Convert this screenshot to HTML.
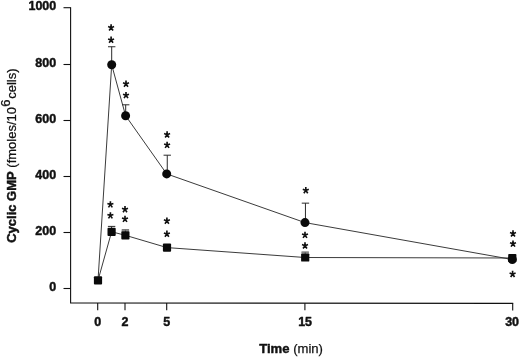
<!DOCTYPE html>
<html><head><meta charset="utf-8"><title>chart</title>
<style>
html,body{margin:0;padding:0;background:#fff;}
body{width:520px;height:357px;overflow:hidden;font-family:"Liberation Sans",sans-serif;}
svg{display:block;will-change:transform;}
text{font-family:"Liberation Sans",sans-serif;fill:#111;}
.b{font-weight:bold;}
</style></head><body>
<svg width="520" height="357" viewBox="0 0 520 357">
<rect width="520" height="357" fill="#fff"/>

<g stroke="#111" stroke-width="1.1" fill="none">
<path d="M70.6 7.2V302.9L513.2 303.35"/>
<path d="M63.5 288.5H70.6"/>
<path d="M63.5 232.5H70.6"/>
<path d="M63.5 176.5H70.6"/>
<path d="M63.5 120.5H70.6"/>
<path d="M63.5 64.5H70.6"/>
<path d="M63.5 7.7H70.6"/>
<path d="M97.7 302.93V310.13"/>
<path d="M125.0 302.96V310.16"/>
<path d="M166.7 303.00V310.20"/>
<path d="M304.9 303.14V310.34"/>
<path d="M512.7 303.35V310.55"/>
</g>
<g stroke="#303030" stroke-width="0.95" fill="none">
<path d="M98.0 280.4 L111.7 64.8 L125.6 115.7 L166.7 173.9 L305.0 222.6 L512.3 259.5"/>
<path d="M98.0 280.4 L111.6 231.8 L125.4 235.3 L167.0 247.6 L305.2 257.5 L512.3 258.0"/>
</g>
<g stroke="#2a2a2a" stroke-width="1" fill="none">
<path d="M111.70 64.85V46.75M108.00 46.75H115.40"/>
<path d="M125.70 115.70V104.80M122.00 104.80H129.40"/>
<path d="M167.25 173.90V155.20M163.55 155.20H170.95"/>
<path d="M305.45 222.60V203.15M301.75 203.15H309.15"/>
<path d="M111.60 231.85V226.40M107.90 226.40H115.30"/>
<path d="M125.40 235.35V229.90M121.70 229.90H129.10"/>
<path d="M305.20 257.50V252.10M301.50 252.10H308.90"/>
</g>
<rect x="121.7" y="230.3" width="7.4" height="1.1" fill="#777"/><rect x="301.5" y="252.5" width="7.4" height="1.0" fill="#888"/>
<g fill="#0a0a0a">
<circle cx="111.7" cy="64.8" r="4.5"/>
<circle cx="125.6" cy="115.7" r="4.5"/>
<circle cx="166.7" cy="173.9" r="4.5"/>
<circle cx="305.0" cy="222.6" r="4.5"/>
<circle cx="512.3" cy="259.5" r="4.5"/>
<rect x="93.9" y="276.3" width="8.2" height="8.2" rx="0.9"/>
<rect x="107.5" y="227.8" width="8.2" height="8.2" rx="0.9"/>
<rect x="121.3" y="231.2" width="8.2" height="8.2" rx="0.9"/>
<rect x="162.9" y="243.5" width="8.2" height="8.2" rx="0.9"/>
<rect x="301.1" y="253.4" width="8.2" height="8.2" rx="0.9"/>
<rect x="508.2" y="253.9" width="8.2" height="8.2" rx="0.9"/>
</g>
<defs><path id="a" d="M0 0.3V-3.1M0 0.3L-3 -0.8M0 0.3L3 -0.8M0 0.3L-1.95 3.1M0 0.3L1.95 3.1" stroke="#111" stroke-width="1.65" fill="none"/></defs>
<use href="#a" x="111.1" y="27.4"/>
<use href="#a" x="111.1" y="39.7"/>
<use href="#a" x="126.0" y="83.6"/>
<use href="#a" x="126.0" y="95.0"/>
<use href="#a" x="167.1" y="134.4"/>
<use href="#a" x="167.1" y="144.8"/>
<use href="#a" x="305.8" y="190.1"/>
<use href="#a" x="110.4" y="204.3"/>
<use href="#a" x="110.4" y="215.3"/>
<use href="#a" x="125.0" y="209.1"/>
<use href="#a" x="125.0" y="218.8"/>
<use href="#a" x="166.9" y="220.6"/>
<use href="#a" x="166.9" y="233.7"/>
<use href="#a" x="305.0" y="234.8"/>
<use href="#a" x="305.0" y="245.4"/>
<use href="#a" x="513.0" y="233.4"/>
<use href="#a" x="513.0" y="243.5"/>
<use href="#a" x="512.6" y="273.9"/>
<text transform="translate(56.20 291.10)  scale(1 1.050)" font-size="12.5" text-anchor="end" stroke="#111" stroke-width="0.45" stroke-linejoin="round"><tspan class="b">0</tspan></text>
<text transform="translate(56.20 235.10)  scale(1 1.050)" font-size="12.5" text-anchor="end" stroke="#111" stroke-width="0.45" stroke-linejoin="round"><tspan class="b">200</tspan></text>
<text transform="translate(56.20 179.10)  scale(1 1.050)" font-size="12.5" text-anchor="end" stroke="#111" stroke-width="0.45" stroke-linejoin="round"><tspan class="b">400</tspan></text>
<text transform="translate(56.20 123.10)  scale(1 1.050)" font-size="12.5" text-anchor="end" stroke="#111" stroke-width="0.45" stroke-linejoin="round"><tspan class="b">600</tspan></text>
<text transform="translate(56.20 67.10)  scale(1 1.050)" font-size="12.5" text-anchor="end" stroke="#111" stroke-width="0.45" stroke-linejoin="round"><tspan class="b">800</tspan></text>
<text transform="translate(56.20 10.30)  scale(1 1.050)" font-size="12.5" text-anchor="end" stroke="#111" stroke-width="0.45" stroke-linejoin="round"><tspan class="b">1000</tspan></text>
<text transform="translate(97.60 326.40)  scale(1 1.050)" font-size="12.5" text-anchor="middle" stroke="#111" stroke-width="0.45" stroke-linejoin="round"><tspan class="b">0</tspan></text>
<text transform="translate(124.90 326.40)  scale(1 1.050)" font-size="12.5" text-anchor="middle" stroke="#111" stroke-width="0.45" stroke-linejoin="round"><tspan class="b">2</tspan></text>
<text transform="translate(166.70 326.40)  scale(1 1.050)" font-size="12.5" text-anchor="middle" stroke="#111" stroke-width="0.45" stroke-linejoin="round"><tspan class="b">5</tspan></text>
<text transform="translate(305.10 326.40)  scale(1 1.050)" font-size="12.5" text-anchor="middle" stroke="#111" stroke-width="0.45" stroke-linejoin="round"><tspan class="b">15</tspan></text>
<text transform="translate(512.10 326.40)  scale(1 1.050)" font-size="12.5" text-anchor="middle" stroke="#111" stroke-width="0.45" stroke-linejoin="round"><tspan class="b">30</tspan></text>
<text transform="translate(259.20 352.70)  scale(1 1.000)" font-size="13.1" text-anchor="start" stroke="#111" stroke-width="0.45" stroke-linejoin="round"><tspan class="b">Time</tspan><tspan stroke-width="0.25"> (min)</tspan></text>
<text transform="translate(15.7 242.8) rotate(-90) scale(1 1.000)" font-size="13" stroke="#111" stroke-width="0.45"><tspan class="b">Cyclic GMP</tspan><tspan stroke-width="0.25"> (fmoles/10<tspan dy="-5.3" dx="0.3" stroke-width="0.3">6</tspan><tspan dy="5.3" dx="0.6">cells)</tspan></tspan></text>
</svg>
</body></html>
